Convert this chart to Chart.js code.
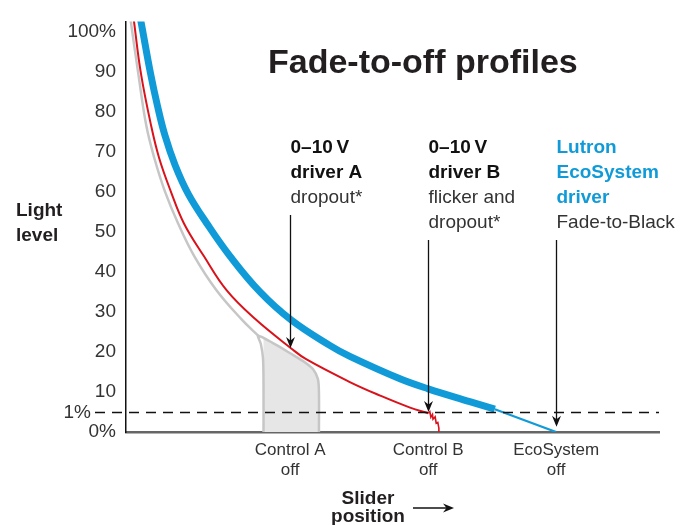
<!DOCTYPE html>
<html>
<head>
<meta charset="utf-8">
<script src="https://cdn.jsdelivr.net/npm/chart.js@4/dist/chart.umd.min.js"></script>
<style>
  html, body { margin: 0; padding: 0; background: #fff; }
  #wrap { width: 696px; height: 525px; }
</style>
</head>
<body>
<div id="wrap"><canvas id="fadeChart" width="696" height="525"></canvas></div>
<script>
// slider position 0..100, light level 0..100 (schematic scale, 1% drawn at 5)
const levelTicks = [0, 10, 20, 30, 40, 50, 60, 70, 80, 90, 100];
const levelLabels = ['0%', '10', '20', '30', '40', '50', '60', '70', '80', '90', '100%'];
const sliderTicks = [30.8, 56.7, 80.7];
const sliderLabels = [['Control A', 'off'], ['Control B', 'off'], ['EcoSystem', 'off']];
const onePercentLevel = 5;

// Lutron EcoSystem driver (thick part, then thin fade-to-black tail)
const ecoX = [2.0, 2.8, 4.6, 5.9, 7.3, 9.2, 11.7, 15.2, 19.5, 25.1, 31.0, 38.3, 42.0, 51.4, 56.7, 64.5, 69.2];
const ecoY = [108, 102.7, 89.7, 81.6, 74.2, 66.8, 59.5, 52.1, 44.0, 35.1, 28.0, 21.6, 18.9, 13.3, 10.8, 7.6, 5.7];
const ecoTailX = [69.2, 80.7];
const ecoTailY = [5.7, 0];

// 0-10V driver B (red): smooth curve then flicker
const driverBX = [1.0, 1.5, 2.8, 4.7, 6.2, 8.4, 10.9, 14.6, 18.9, 24.2, 31.0, 33.8, 42.0, 47.7, 53.3, 56.7];
const driverBY = [108, 102.7, 89.7, 76.7, 68.6, 60.2, 52.1, 44.0, 35.4, 28.3, 20.9, 18.2, 12.5, 9.1, 6.1, 4.7];
const flickerX = [56.7, 57.0, 57.2, 57.5, 57.6, 58.0, 58.2, 58.5, 58.7, 58.7];
const flickerY = [4.7, 5.1, 3.7, 4.4, 3.2, 3.8, 2.2, 2.4, 1.0, 0];

// 0-10V driver A (grey) and its dropout region
const driverAX = [0.4, 0.9, 2.3, 3.8, 5.3, 7.3, 9.8, 12.8, 16.9, 21.6, 24.8];
const driverAY = [108, 102.7, 89.7, 76.7, 68.6, 60.2, 52.1, 44.0, 35.6, 28.3, 24.1];
const dropoutX = [25.8, 25.8, 25.7, 25.3, 24.8, 28.0, 30.8, 33.6, 35.1, 36.0, 36.2, 36.2];
const dropoutY = [0, 12.0, 18.5, 22.0, 24.1, 21.9, 19.7, 17.4, 15.7, 13.3, 9.8, 0];

const notes = [
  { x: 30.8, top: 215, tip: 21.0, lines: [['0–10\u2009V', 'b'], ['driver A', 'b'], ['dropout*', 'n']] },
  { x: 56.7, top: 240, tip: onePercentLevel, lines: [['0–10\u2009V', 'b'], ['driver B', 'b'], ['flicker and', 'n'], ['dropout*', 'n']] },
  { x: 80.7, top: 240, tip: 1.3, lines: [['Lutron', 'blue'], ['EcoSystem', 'blue'], ['driver', 'blue'], ['Fade-to-Black', 'n']] }
];

const BLUE = '#109bd8';
const RED = '#d9121b';
const GREY = '#c6c6c6';
const FONT = '"Liberation Sans", Arial, sans-serif';

const pts = (xs, ys) => xs.map((x, i) => ({ x: x, y: ys[i] }));

const arrowHead = (ctx, x, y, dir) => {
  ctx.beginPath();
  if (dir === 'down') {
    ctx.moveTo(x, y);
    ctx.lineTo(x - 4.5, y - 11);
    ctx.lineTo(x, y - 7.5);
    ctx.lineTo(x + 4.5, y - 11);
  } else {
    ctx.moveTo(x, y);
    ctx.lineTo(x - 11, y - 4.5);
    ctx.lineTo(x - 7.5, y);
    ctx.lineTo(x - 11, y + 4.5);
  }
  ctx.closePath();
  ctx.fill();
};

const decor = {
  id: 'decor',
  afterDatasetsDraw(chart) {
    const ctx = chart.ctx;
    const xs = chart.scales.x;
    const ys = chart.scales.y;
    const area = chart.chartArea;
    const y1 = Math.round(ys.getPixelForValue(onePercentLevel)) + 0.5;

    ctx.save();
    // 1% reference line
    ctx.strokeStyle = '#111';
    ctx.lineWidth = 1.3;
    ctx.setLineDash([10, 7]);
    ctx.beginPath();
    ctx.moveTo(95, y1);
    ctx.lineTo(area.right, y1);
    ctx.stroke();
    ctx.setLineDash([]);

    ctx.fillStyle = '#333';
    ctx.font = '19px ' + FONT;
    ctx.textAlign = 'right';
    ctx.textBaseline = 'middle';
    ctx.fillText('1%', 91, y1);

    // title
    ctx.fillStyle = '#231f20';
    ctx.textAlign = 'left';
    ctx.textBaseline = 'alphabetic';
    ctx.font = 'bold 34px ' + FONT;
    ctx.fillText('Fade-to-off profiles', 268, 73);

    // y axis title
    ctx.font = 'bold 19px ' + FONT;
    ctx.fillText('Light', 16, 216);
    ctx.fillText('level', 16, 241);

    // x axis title and arrow
    ctx.textAlign = 'center';
    ctx.fillText('Slider', 368, 504);
    ctx.fillText('position', 368, 522);
    ctx.strokeStyle = '#111';
    ctx.fillStyle = '#111';
    ctx.lineWidth = 1.3;
    ctx.beginPath();
    ctx.moveTo(413, 508);
    ctx.lineTo(448, 508);
    ctx.stroke();
    arrowHead(ctx, 454, 508, 'right');

    // annotations with arrows
    ctx.textAlign = 'left';
    notes.forEach((n) => {
      const px = Math.round(xs.getPixelForValue(n.x)) + 0.5;
      n.lines.forEach((ln, i) => {
        const [txt, style] = ln;
        ctx.font = (style === 'n' ? '' : 'bold ') + '19px ' + FONT;
        ctx.fillStyle = style === 'blue' ? BLUE : (style === 'b' ? '#111' : '#333');
        ctx.fillText(txt, px, 153 + i * 25);
      });
      const tipY = ys.getPixelForValue(n.tip);
      ctx.strokeStyle = '#111';
      ctx.fillStyle = '#111';
      ctx.lineWidth = 1.3;
      ctx.beginPath();
      ctx.moveTo(px, n.top);
      ctx.lineTo(px, tipY - 6);
      ctx.stroke();
      arrowHead(ctx, px, tipY, 'down');
    });
    ctx.restore();
  }
};

new Chart(document.getElementById('fadeChart'), {
  type: 'line',
  data: {
    datasets: [
      { data: pts(ecoX, ecoY), borderColor: BLUE, borderWidth: 7, tension: 0.4, borderCapStyle: 'butt' },
      { data: pts(ecoTailX, ecoTailY), borderColor: BLUE, borderWidth: 2.2, tension: 0 },
      { data: pts(driverBX, driverBY), borderColor: RED, borderWidth: 2, tension: 0.4 },
      { data: pts(flickerX, flickerY), borderColor: RED, borderWidth: 1.6, tension: 0 },
      { data: pts(driverAX, driverAY), borderColor: GREY, borderWidth: 2.5, tension: 0.4 },
      { data: pts(dropoutX, dropoutY), borderColor: GREY, borderWidth: 2.5, tension: 0.3,
        fill: 'origin', backgroundColor: '#e6e6e6' }
    ]
  },
  options: {
    responsive: false,
    animation: false,
    events: [],
    elements: { point: { radius: 0 } },
    layout: { padding: { left: 0, top: 14, right: 37, bottom: 0 } },
    plugins: { legend: { display: false }, tooltip: { enabled: false }, title: { display: false } },
    scales: {
      x: {
        type: 'linear', min: 0, max: 100,
        afterFit: (s) => { s.height = 93; },
        afterBuildTicks: (s) => { s.ticks = sliderTicks.map((v) => ({ value: v })); },
        grid: { display: false, drawTicks: false },
        border: { display: true, color: '#666', width: 2.5 },
        ticks: {
          autoSkip: false, maxRotation: 0, padding: 9, color: '#333',
          font: { family: FONT, size: 17, lineHeight: 1.15 },
          callback: (v, i) => sliderLabels[i]
        }
      },
      y: {
        type: 'linear', min: 0, max: 102.7,
        afterFit: (s) => { s.width = 126; },
        afterBuildTicks: (s) => { s.ticks = levelTicks.map((v) => ({ value: v })); },
        grid: { display: false, drawTicks: false },
        border: { display: true, color: '#111', width: 1.5 },
        ticks: {
          autoSkip: false, padding: 10, color: '#333',
          font: { family: FONT, size: 19 },
          callback: (v, i) => levelLabels[i]
        }
      }
    }
  },
  plugins: [decor]
});
</script>
</body>
</html>
